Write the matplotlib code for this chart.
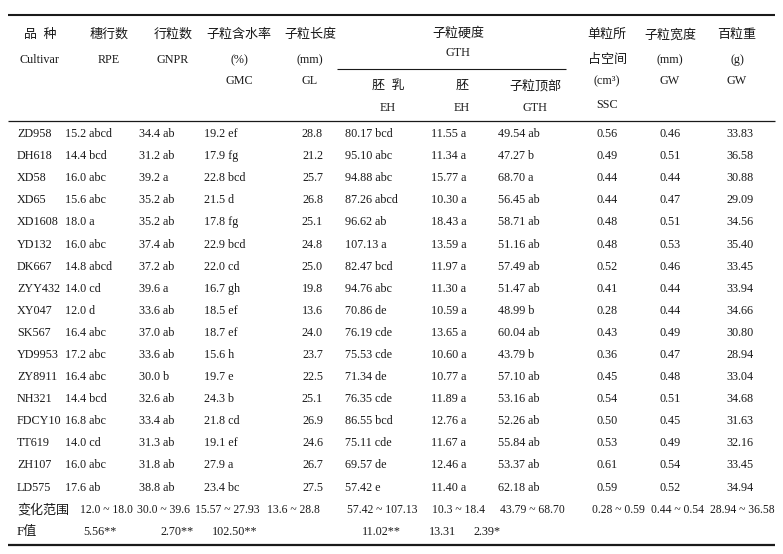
import matplotlib
matplotlib.use("Agg")
import matplotlib.pyplot as plt

cultivars = ["ZD958", "DH618", "XD58", "XD65", "XD1608", "YD132", "DK667", "ZYY432",
             "XY047", "SK567", "YD9953", "ZY8911", "NH321", "FDCY10", "TT619", "ZH107", "LD575"]
rpe = [15.2, 14.4, 16.0, 15.6, 18.0, 16.0, 14.8, 14.0, 12.0, 16.4, 17.2, 16.4, 14.4, 16.8, 14.0, 16.0, 17.6]
rpe_sig = ["abcd", "bcd", "abc", "abc", "a", "abc", "abcd", "cd", "d", "abc", "abc", "abc", "bcd", "abc", "cd", "abc", "ab"]
gnpr = [34.4, 31.2, 39.2, 35.2, 35.2, 37.4, 37.2, 39.6, 33.6, 37.0, 33.6, 30.0, 32.6, 33.4, 31.3, 31.8, 38.8]
gnpr_sig = ["ab", "ab", "a", "ab", "ab", "ab", "ab", "a", "ab", "ab", "ab", "b", "ab", "ab", "ab", "ab", "ab"]
gmc = [19.2, 17.9, 22.8, 21.5, 17.8, 22.9, 22.0, 16.7, 18.5, 18.7, 15.6, 19.7, 24.3, 21.8, 19.1, 27.9, 23.4]
gmc_sig = ["ef", "fg", "bcd", "d", "fg", "bcd", "cd", "gh", "ef", "ef", "h", "e", "b", "cd", "ef", "a", "bc"]
gl = [28.8, 21.2, 25.7, 26.8, 25.1, 24.8, 25.0, 19.8, 13.6, 24.0, 23.7, 22.5, 25.1, 26.9, 24.6, 26.7, 27.5]
eh_endo = [80.17, 95.10, 94.88, 87.26, 96.62, 107.13, 82.47, 94.76, 70.86, 76.19, 75.53, 71.34, 76.35, 86.55, 75.11, 69.57, 57.42]
eh_endo_sig = ["bcd", "abc", "abc", "abcd", "ab", "a", "bcd", "abc", "de", "cde", "cde", "de", "cde", "bcd", "cde", "de", "e"]
eh_emb = [11.55, 11.34, 15.77, 10.30, 18.43, 13.59, 11.97, 11.30, 10.59, 13.65, 10.60, 10.77, 11.89, 12.76, 11.67, 12.46, 11.40]
eh_emb_sig = ["a"] * 17
gth_top = [49.54, 47.27, 68.70, 56.45, 58.71, 51.16, 57.49, 51.47, 48.99, 60.04, 43.79, 57.10, 53.16, 52.26, 55.84, 53.37, 62.18]
gth_top_sig = ["ab", "b", "a", "ab", "ab", "ab", "ab", "ab", "b", "ab", "b", "ab", "ab", "ab", "ab", "ab", "ab"]
ssc = [0.56, 0.49, 0.44, 0.44, 0.48, 0.48, 0.52, 0.41, 0.28, 0.43, 0.36, 0.45, 0.54, 0.50, 0.53, 0.61, 0.59]
gw_mm = [0.46, 0.51, 0.44, 0.47, 0.51, 0.53, 0.46, 0.44, 0.44, 0.49, 0.47, 0.48, 0.51, 0.45, 0.49, 0.54, 0.52]
gw_g = [33.83, 36.58, 30.88, 29.09, 34.56, 35.40, 33.45, 33.94, 34.66, 30.80, 28.94, 33.04, 34.68, 31.63, 32.16, 33.45, 34.94]
ranges = ["12.0 ~ 18.0", "30.0 ~ 39.6", "15.57 ~ 27.93", "13.6 ~ 28.8", "57.42 ~ 107.13",
          "10.3 ~ 18.4", "43.79 ~ 68.70", "0.28 ~ 0.59", "0.44 ~ 0.54", "28.94 ~ 36.58"]
f_values = ["5.56**", "2.70**", "102.50**", "", "11.02**", "13.31", "2.39*", "", "", ""]

W, H = 783, 554
fig = plt.figure(figsize=(W / 100, H / 100), dpi=100)
ax = fig.add_axes([0, 0, 1, 1])
ax.set_xlim(0, W)
ax.set_ylim(H, 0)
ax.axis("off")

FAM = ["Liberation Serif", "Noto Sans CJK SC"]
FS = 8.7      # latin text
FSC = 9.4     # chinese text
COL = "#1a1a1a"


def t(x, y, s, ha="left", fs=FS):
    ax.text(x, y, s, ha=ha, va="center", fontsize=fs, family=FAM, color=COL)


def c(x, y, s, ha="center"):
    t(x, y, s, ha, FSC)


# rules
ax.plot([8, 775], [15, 15], color=COL, lw=1.5, solid_capstyle="butt")
ax.plot([337, 566], [69, 69], color=COL, lw=0.8, solid_capstyle="butt")
ax.plot([8, 775], [121, 121], color=COL, lw=0.9, solid_capstyle="butt")
ax.plot([8, 775], [545, 545], color=COL, lw=1.6, solid_capstyle="butt")

# header
c(40, 35, "品  种"); t(40, 60, "Cultivar", "center")
c(109, 35, "穗行数"); t(109, 60, "RPE", "center")
c(173, 35, "行粒数"); t(173, 60, "GNPR", "center")
c(239, 35, "子粒含水率"); t(239, 60, "(%)", "center"); t(239, 81, "GMC", "center")
c(310, 35, "子粒长度"); t(310, 60, "(mm)", "center"); t(310, 81, "GL", "center")
c(458, 33, "子粒硬度"); t(458, 53, "GTH", "center")
c(388, 86, "胚  乳"); t(388, 108, "EH", "center")
c(462, 86, "胚"); t(462, 108, "EH", "center")
c(535, 86, "子粒顶部"); t(535, 108, "GTH", "center")
c(607, 35, "单粒所"); c(607, 60, "占空间")
t(607, 81, "(cm³)", "center"); t(607, 105, "SSC", "center")
c(670, 35, "子粒宽度"); t(670, 60, "(mm)", "center"); t(670, 81, "GW", "center")
c(737, 35, "百粒重"); t(737, 60, "(g)", "center"); t(737, 81, "GW", "center")

# body
y0, dy = 134, 22.1
for i, name in enumerate(cultivars):
    y = y0 + i * dy
    t(17, y, name)
    t(65, y, f"{rpe[i]:.1f} {rpe_sig[i]}")
    t(139, y, f"{gnpr[i]:.1f} {gnpr_sig[i]}")
    t(204, y, f"{gmc[i]:.1f} {gmc_sig[i]}")
    t(323, y, f"{gl[i]:.1f}", "right")
    t(345, y, f"{eh_endo[i]:.2f} {eh_endo_sig[i]}")
    t(431, y, f"{eh_emb[i]:.2f} {eh_emb_sig[i]}")
    t(498, y, f"{gth_top[i]:.2f} {gth_top_sig[i]}")
    t(607, y, f"{ssc[i]:.2f}", "center")
    t(670, y, f"{gw_mm[i]:.2f}", "center")
    t(740, y, f"{gw_g[i]:.2f}", "center")

yr = y0 + len(cultivars) * dy
c(17, yr, "变化范围", "left")
range_x = [80, 137, 195, 267, 347, 432, 500, 592, 651, 710]
for x, s in zip(range_x, ranges):
    t(x, yr, s, fs=8.4)

yf = yr + dy
c(17, yf, "F值", "left")
f_x = [100, 177, 235, None, 381, 442, 487, None, None, None]
for x, s in zip(f_x, f_values):
    if x is not None and s:
        t(x, yf, s, "center")

fig.savefig("out.png", dpi=100)
